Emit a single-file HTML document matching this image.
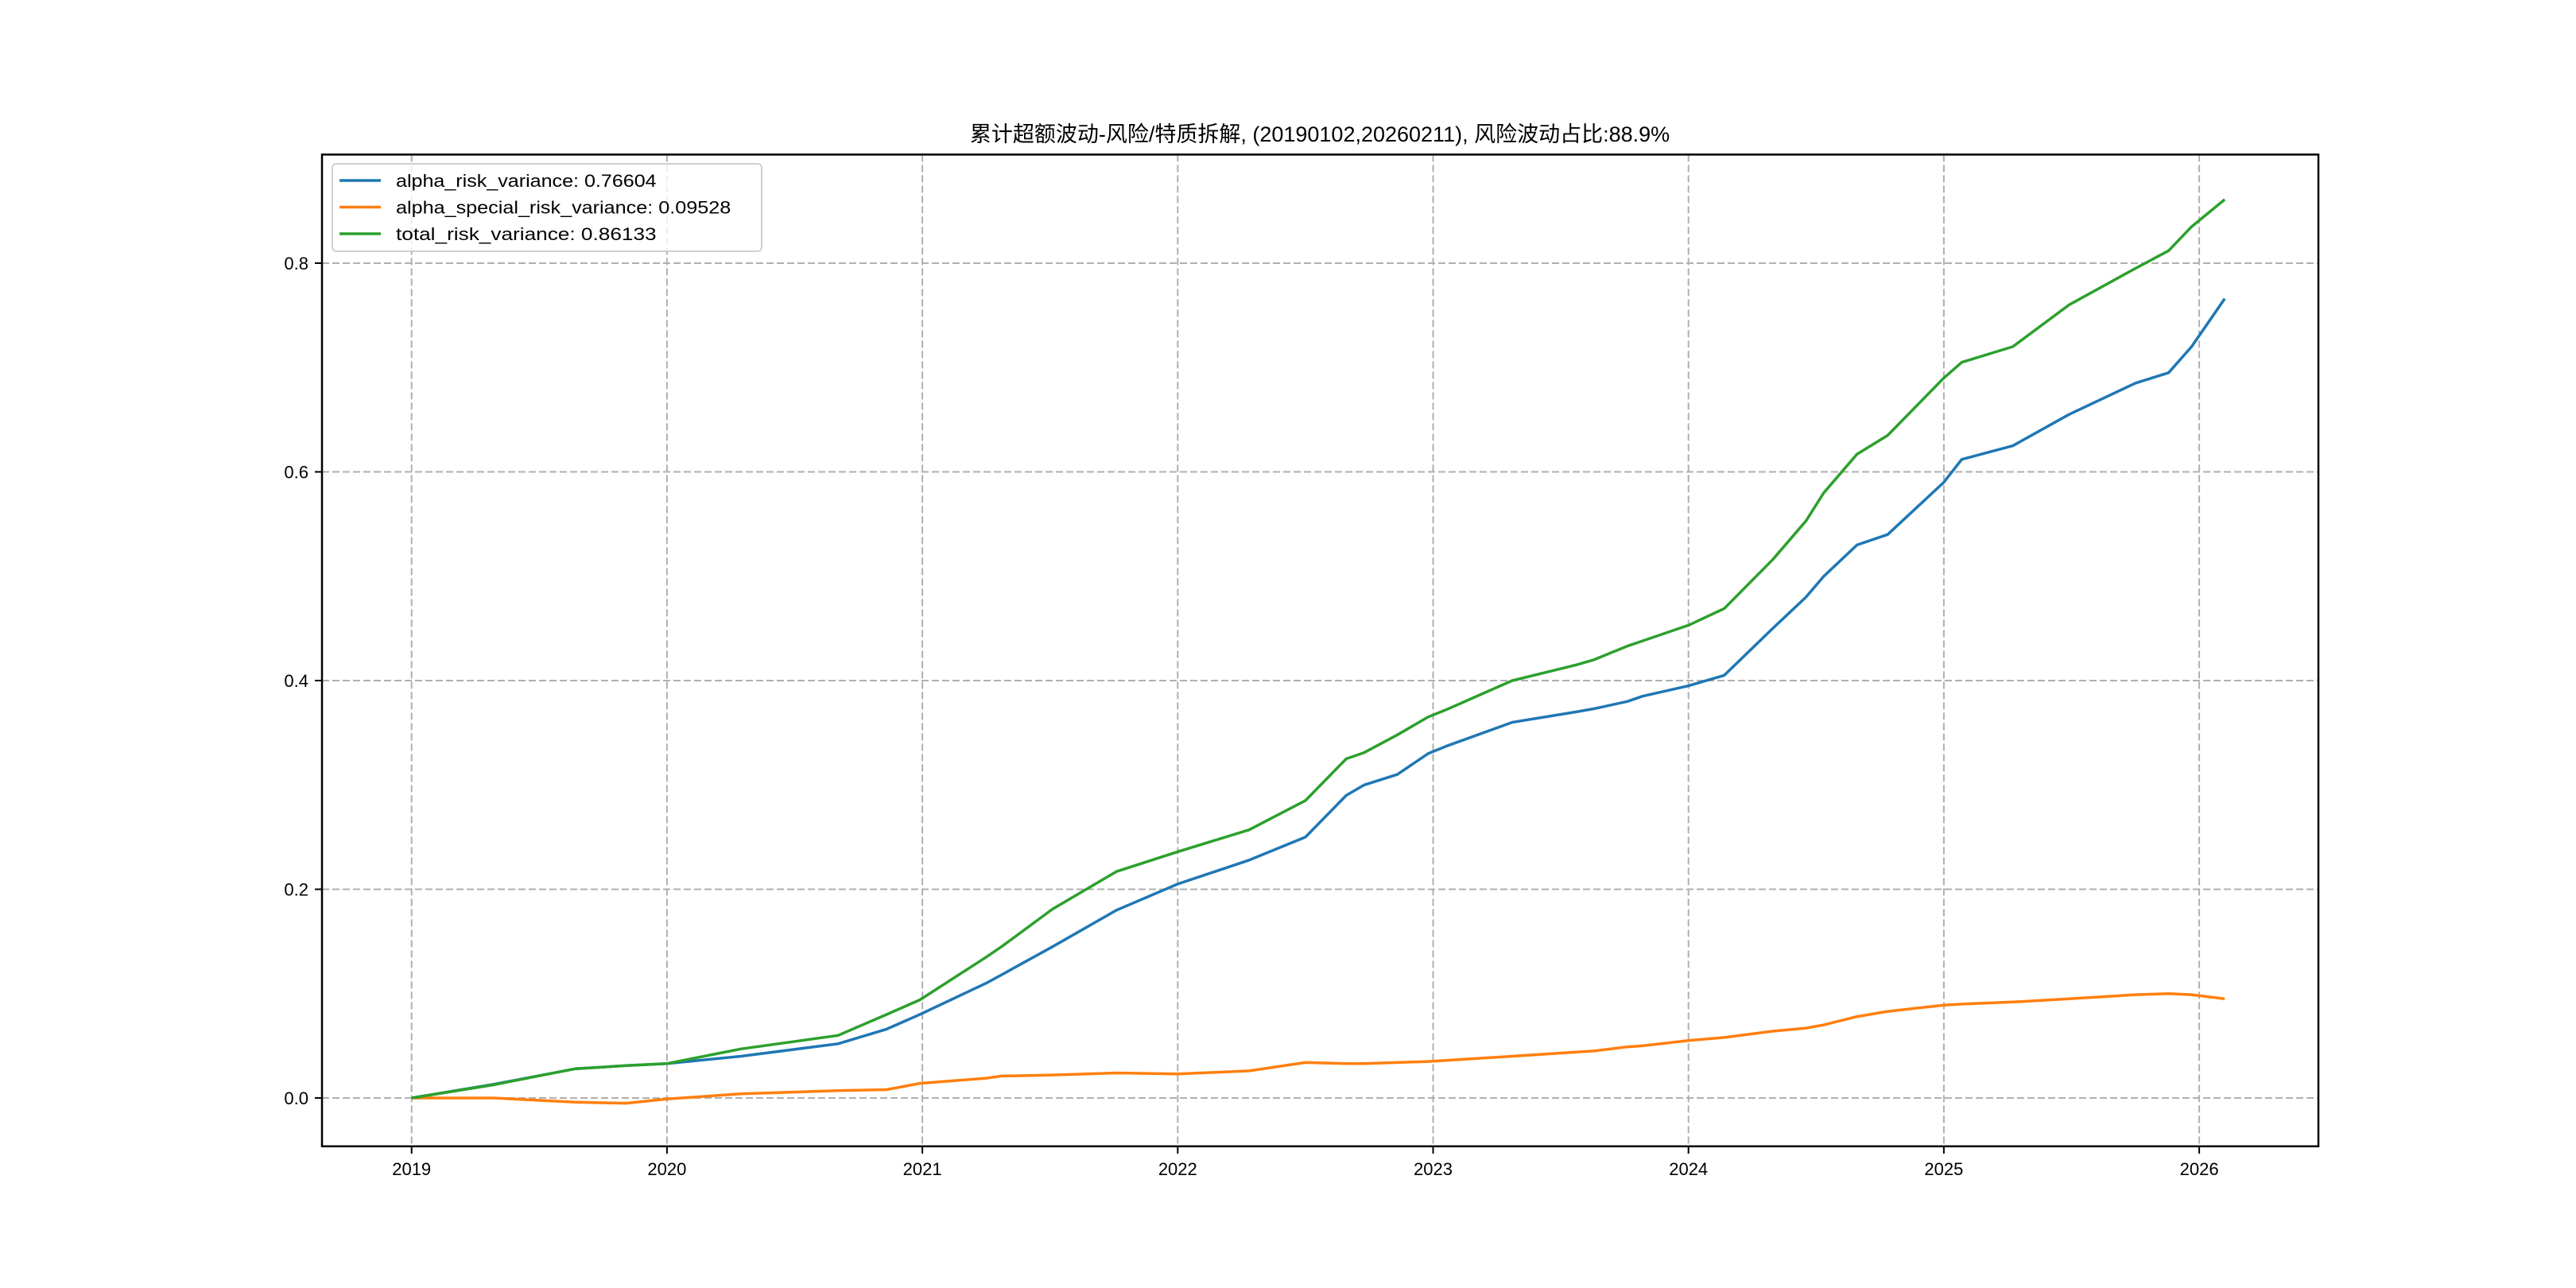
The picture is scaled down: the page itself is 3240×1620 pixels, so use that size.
<!DOCTYPE html>
<html><head><meta charset="utf-8"><style>
html,body{margin:0;padding:0;background:#fff;}
svg{display:block;}
text{font-family:"Liberation Sans","Noto Sans CJK SC",sans-serif;fill:#000;}
</style></head><body>
<svg id="chart" width="3240" height="1620" viewBox="0 0 3240 1620" xmlns="http://www.w3.org/2000/svg">
<rect width="3240" height="1620" fill="#fff"/>
<text x="1660" y="178" text-anchor="middle" font-size="27">累计超额波动-风险/特质拆解, (20190102,20260211), 风险波动占比:88.9%</text>
<g id="grid"></g>
<g id="series"></g>
<rect x="405" y="194.4" width="2511" height="1247.4" fill="none" stroke="#000" stroke-width="2.5"/>
<g id="ticks"></g>
<g id="legend"></g>
</svg>
<script>
const xYears = [2019.0,2019.32,2019.64,2019.84,2020.0,2020.29,2020.67,2020.86,2020.99,2021.25,2021.31,2021.51,2021.76,2022.0,2022.28,2022.5,2022.66,2022.73,2022.86,2022.98,2023.05,2023.31,2023.56,2023.63,2023.76,2023.82,2024.0,2024.14,2024.33,2024.46,2024.53,2024.66,2024.78,2025.0,2025.07,2025.27,2025.49,2025.75,2025.88,2025.97,2026.1];
const alphaRisk = [0,0.013,0.028,0.031,0.033,0.040,0.052,0.066,0.080,0.110,0.118,0.145,0.180,0.205,0.228,0.250,0.290,0.300,0.310,0.330,0.337,0.360,0.370,0.373,0.380,0.385,0.395,0.405,0.450,0.480,0.500,0.530,0.540,0.590,0.612,0.625,0.655,0.685,0.695,0.720,0.766];
const specialRisk = [0,0,-0.004,-0.005,-0.001,0.004,0.007,0.008,0.014,0.019,0.021,0.022,0.024,0.023,0.026,0.034,0.033,0.033,0.034,0.035,0.036,0.040,0.044,0.045,0.049,0.050,0.055,0.058,0.064,0.067,0.070,0.078,0.083,0.089,0.090,0.092,0.095,0.099,0.100,0.099,0.095];
const totalRisk = [0,0.0126,0.028,0.031,0.033,0.047,0.060,0.080,0.094,0.135,0.145,0.181,0.217,0.236,0.257,0.285,0.325,0.331,0.348,0.365,0.372,0.400,0.415,0.420,0.433,0.438,0.453,0.469,0.516,0.553,0.580,0.617,0.635,0.690,0.705,0.720,0.760,0.795,0.812,0.835,0.861];
const yTicks = [0.0,0.2,0.4,0.6,0.8];
const yTickLabels = ["0.0","0.2","0.4","0.6","0.8"];
const xTicks = [2019,2020,2021,2022,2023,2024,2025,2026];
const xTickLabels = ["2019","2020","2021","2022","2023","2024","2025","2026"];
const seriesNames = ["alpha_risk_variance: 0.76604","alpha_special_risk_variance: 0.09528","total_risk_variance: 0.86133"];
const seriesColors = ["#1f77b4","#ff7f0e","#2ca02c"];

const NS="http://www.w3.org/2000/svg";
function xScale(y){return 517.7+(y-2019)*321.2;}
function yScale(v){return 1381-v*1312.5;}
function mk(tag,attrs,parent){const e=document.createElementNS(NS,tag);for(const k in attrs)e.setAttribute(k,attrs[k]);parent.appendChild(e);return e;}
const grid=document.getElementById('grid'),ticks=document.getElementById('ticks'),series=document.getElementById('series'),legend=document.getElementById('legend');
xTicks.forEach((t,i)=>{
  const x=xScale(t);
  const g=mk('line',{x1:x,x2:x,y1:194.4,y2:1441.8,stroke:'#b0b0b0','stroke-width':2,'stroke-dasharray':'9,4'},grid);
  
  
  const tk=mk('line',{x1:x,x2:x,y1:1441.8,y2:1451,stroke:'#000','stroke-width':2},ticks);
  
  
  const lb=mk('text',{x:x,y:1478,'text-anchor':'middle','font-size':22},ticks);
  lb.textContent=xTickLabels[i];
  
  
});
yTicks.forEach((t,i)=>{
  const y=yScale(t);
  const g=mk('line',{x1:405,x2:2916,y1:y,y2:y,stroke:'#b0b0b0','stroke-width':2,'stroke-dasharray':'9,4'},grid);
  
  
  const tk=mk('line',{x1:396,x2:405,y1:y,y2:y,stroke:'#000','stroke-width':2},ticks);
  
  
  const lb=mk('text',{x:388,y:y+8,'text-anchor':'end','font-size':22},ticks);
  lb.textContent=yTickLabels[i];
  
  
});
[alphaRisk,specialRisk,totalRisk].forEach((arr,si)=>{
  const pts=arr.map((v,i)=>xScale(xYears[i]).toFixed(1)+','+yScale(v).toFixed(1)).join(' ');
  const p=mk('polyline',{points:pts,fill:'none',stroke:seriesColors[si],'stroke-width':3.5,'stroke-linejoin':'round'},series);
  
  
});
const box=mk('rect',{x:418,y:206,width:540,height:110,rx:5,fill:'#fff','fill-opacity':0.8,stroke:'#d0d0d0','stroke-width':2},legend);


seriesNames.forEach((n,i)=>{
  const y=227+i*33.5;
  const l=mk('line',{x1:427,x2:479,y1:y,y2:y,stroke:seriesColors[i],'stroke-width':3.5},legend);
  
  
  const t=mk('text',{x:498,y:y+8,'font-size':22,'font-family':'Liberation Mono, monospace',textLength:n.length*11.7,lengthAdjust:'spacingAndGlyphs'},legend);
  t.textContent=n;
  
  
});
</script>
</body></html>
